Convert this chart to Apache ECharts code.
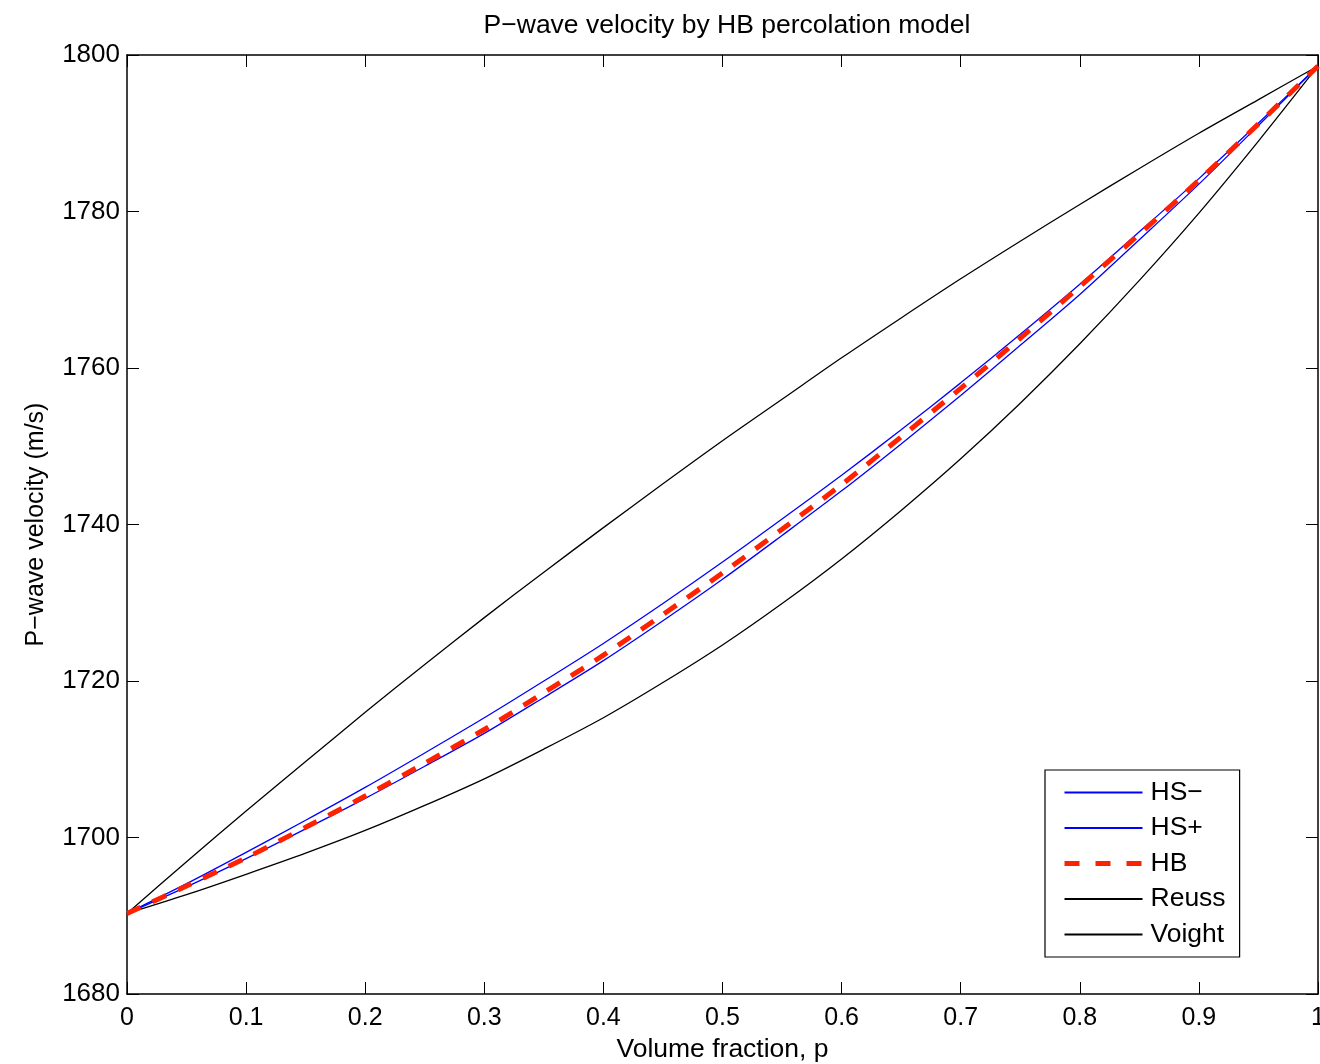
<!DOCTYPE html>
<html>
<head>
<meta charset="utf-8">
<script src="https://cdn.jsdelivr.net/npm/echarts@6/dist/echarts.min.js"></script>
<style>
html,body{margin:0;padding:0;background:#fff;}
#chart{width:1320px;height:1064px;}
</style>
</head>
<body>
<div id="chart"></div>
<script>
// Data
const fraction = [0, 0.05, 0.1, 0.15, 0.2, 0.25, 0.3, 0.35, 0.4, 0.45, 0.5, 0.55, 0.6, 0.65, 0.7, 0.75, 0.8, 0.85, 0.9, 0.95, 1.0];
const hsMinus  = [1690.3, 1693.7, 1697.3, 1701.1, 1705.0, 1709.1, 1713.3, 1717.9, 1722.6, 1727.7, 1733.0, 1738.6, 1744.3, 1750.3, 1756.5, 1762.9, 1769.4, 1776.4, 1783.5, 1791.0, 1798.6];
const hsPlus   = [1690.3, 1694.1, 1698.1, 1702.2, 1706.4, 1710.8, 1715.3, 1720.0, 1724.8, 1729.9, 1735.2, 1740.7, 1746.3, 1752.1, 1758.1, 1764.3, 1770.7, 1777.4, 1784.2, 1791.3, 1798.6];
const hb       = [1690.3, 1693.8, 1697.4, 1701.3, 1705.3, 1709.5, 1713.8, 1718.5, 1723.3, 1728.5, 1733.8, 1739.4, 1745.1, 1751.2, 1757.4, 1763.8, 1770.4, 1777.1, 1784.0, 1791.2, 1798.6];
const reuss    = [1690.3, 1692.7, 1695.3, 1698.0, 1700.9, 1704.1, 1707.5, 1711.3, 1715.3, 1719.8, 1724.6, 1729.9, 1735.6, 1741.8, 1748.4, 1755.5, 1763.1, 1771.2, 1779.8, 1789.0, 1798.6];
const voight   = [1690.3, 1696.9, 1703.4, 1709.7, 1716.0, 1722.1, 1728.1, 1733.9, 1739.6, 1745.2, 1750.7, 1756.0, 1761.3, 1766.4, 1771.4, 1776.2, 1780.9, 1785.5, 1790.0, 1794.3, 1798.6];
const seriesNames = ['HS\u2212', 'HS+', 'HB', 'Reuss', 'Voight'];
const titleText = 'P\u2212wave velocity by HB percolation model';
const xName = 'Volume fraction, p';
const yName = 'P\u2212wave velocity (m/s)';

const pairs = arr => fraction.map((p, i) => [p, arr[i]]);
const FONT = 'Liberation Sans, Arial, Helvetica, sans-serif';

const chart = echarts.init(document.getElementById('chart'));
const tickStyle = () => ({show: true, inside: true, length: 12, lineStyle: {color: '#000', width: 1}});
const lineAx = () => ({show: true, onZero: false, lineStyle: {color: '#000', width: 1.5}});
const HBCOLOR = '#ff2200';

chart.setOption({
  animation: false,
  backgroundColor: '#fff',
  title: {
    text: titleText, left: 722, top: 7, textAlign: 'center',
    textStyle: {fontFamily: FONT, fontSize: 26.5, fontWeight: 'normal', color: '#000'}
  },
  grid: {left: 127, right: 2, top: 55, bottom: 70, containLabel: false, outerBoundsMode: 'none'},
  legend: {
    orient: 'vertical', left: 1045, top: 770,
    data: [
      {name: seriesNames[0]},
      {name: seriesNames[1]},
      {name: seriesNames[2], lineStyle: {width: 5, type: [15, 16], color: HBCOLOR}},
      {name: seriesNames[3]},
      {name: seriesNames[4]}
    ],
    itemWidth: 78, itemHeight: 26, itemGap: 8.5,
    padding: [9, 14, 9, 17],
    borderColor: '#000', borderWidth: 1.2, backgroundColor: '#fff',
    itemStyle: {opacity: 0},
    textStyle: {fontFamily: FONT, fontSize: 26.5, color: '#000', padding: [0, 0, 0, 3]}
  },
  xAxis: [{
    type: 'value', min: 0, max: 1, interval: 0.1,
    name: xName, nameLocation: 'middle', nameGap: 40,
    nameTextStyle: {fontFamily: FONT, fontSize: 26.5, color: '#000'},
    axisLine: lineAx(), axisTick: tickStyle(), splitLine: {show: false},
    axisLabel: {fontFamily: FONT, fontSize: 25, color: '#000', margin: 12,
      formatter: v => String(Math.round(v * 10) / 10)}
  }, {
    type: 'value', min: 0, max: 1, interval: 0.1, position: 'top',
    axisLine: lineAx(), axisTick: tickStyle(), axisLabel: {show: false}, splitLine: {show: false}
  }],
  yAxis: [{
    type: 'value', min: 1680, max: 1800, interval: 20, position: 'left',
    name: yName, nameLocation: 'middle', nameGap: 78, nameRotate: 90,
    nameTextStyle: {fontFamily: FONT, fontSize: 25, color: '#000'},
    axisLine: lineAx(), axisTick: tickStyle(), splitLine: {show: false},
    axisLabel: {fontFamily: FONT, fontSize: 26, color: '#000', margin: 7,
      formatter: v => String(v)}
  }, {
    type: 'value', min: 1680, max: 1800, interval: 20, position: 'right',
    axisLine: lineAx(), axisTick: tickStyle(), axisLabel: {show: false}, splitLine: {show: false}
  }],
  series: [
    {name: seriesNames[0], type: 'line', data: pairs(hsMinus), smooth: 0.3, showSymbol: false, symbol: 'none',
     lineStyle: {color: '#0000ff', width: 1.3}, itemStyle: {color: '#0000ff'}, z: 2},
    {name: seriesNames[1], type: 'line', data: pairs(hsPlus), smooth: 0.3, showSymbol: false, symbol: 'none',
     lineStyle: {color: '#0000ff', width: 1.3}, itemStyle: {color: '#0000ff'}, z: 2},
    {name: seriesNames[2], type: 'line', data: pairs(hb), smooth: 0.3, showSymbol: false, symbol: 'none',
     lineStyle: {color: HBCOLOR, width: 5, type: [15, 13]}, itemStyle: {color: HBCOLOR}, z: 3},
    {name: seriesNames[3], type: 'line', data: pairs(reuss), smooth: 0.3, showSymbol: false, symbol: 'none',
     lineStyle: {color: '#000', width: 1.3}, itemStyle: {color: '#000'}, z: 2},
    {name: seriesNames[4], type: 'line', data: pairs(voight), smooth: 0.3, showSymbol: false, symbol: 'none',
     lineStyle: {color: '#000', width: 1.3}, itemStyle: {color: '#000'}, z: 2}
  ]
});
</script>
</body>
</html>
